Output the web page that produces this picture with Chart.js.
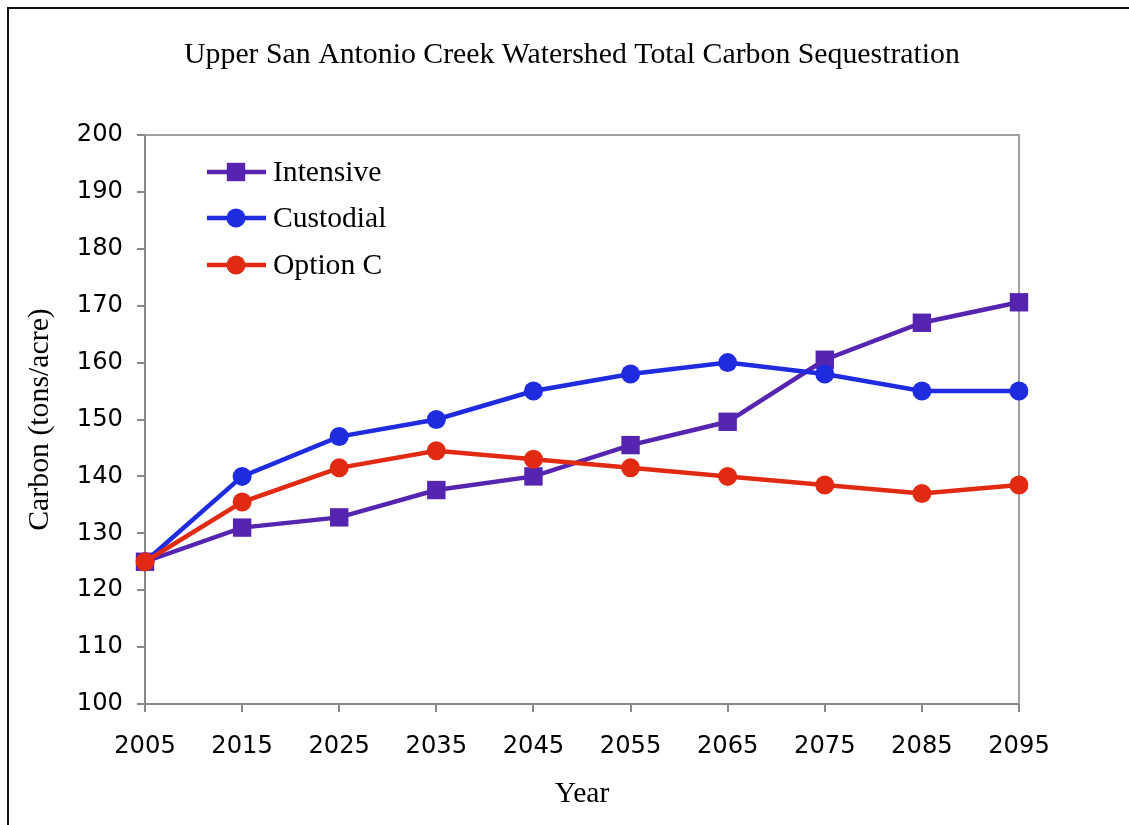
<!DOCTYPE html>
<html>
<head>
<meta charset="utf-8">
<script src="https://cdn.jsdelivr.net/npm/chart.js@4/dist/chart.umd.min.js"></script>
<style>
  html, body { margin: 0; padding: 0; background: #fff; overflow: hidden; }
  #wrap { position: relative; width: 1129px; height: 825px; }
  #frame { position: absolute; left: 7px; top: 7px; width: 1200px; height: 900px; border: 2px solid #111; pointer-events: none; box-sizing: border-box; }
  canvas { position: absolute; left: 0; top: 0; }
</style>
</head>
<body>
<div id="wrap">
  <canvas id="c" width="1129" height="825"></canvas>
  <div id="frame"></div>
</div>
<script>
const years = ['2005','2015','2025','2035','2045','2055','2065','2075','2085','2095'];
const intensive = [125, 131, 132.8, 137.6, 140, 145.5, 149.6, 160.5, 167, 170.6];
const custodial = [125, 140, 147, 150, 155, 158, 160, 158, 155, 155];
const optionC = [125, 135.5, 141.5, 144.5, 143, 141.5, 140, 138.5, 137, 138.5];
const yTicks = [100, 110, 120, 130, 140, 150, 160, 170, 180, 190, 200];
const chartTitle = 'Upper San Antonio Creek Watershed Total Carbon Sequestration';

const serif = '"Liberation Serif", "Times New Roman", serif';
const sans = '"DejaVu Sans", Verdana, sans-serif';

const frameAndLegend = {
  id: 'frameAndLegend',
  beforeDatasetsDraw(chart) {
    const {ctx, chartArea: a} = chart;
    ctx.save();
    ctx.strokeStyle = '#a0a0a0';
    ctx.lineWidth = 2;
    ctx.beginPath();
    ctx.moveTo(a.left, a.top);
    ctx.lineTo(a.right, a.top);
    ctx.lineTo(a.right, a.bottom);
    ctx.stroke();
    ctx.restore();
  },
  afterDraw(chart) {
    const {ctx} = chart;
    ctx.save();
    // title
    ctx.fillStyle = '#000';
    ctx.font = '29.8px ' + serif;
    ctx.textAlign = 'center';
    ctx.textBaseline = 'alphabetic';
    ctx.fillText(chartTitle, 572, 63);
    // legend
    const x0 = 207, x1 = 266, xm = 236, tx = 273;
    const rows = [172, 218, 265];
    chart.data.datasets.forEach((ds, i) => {
      const y = rows[i];
      ctx.strokeStyle = ds.borderColor;
      ctx.lineWidth = ds.borderWidth;
      ctx.beginPath();
      ctx.moveTo(x0, y);
      ctx.lineTo(x1, y);
      ctx.stroke();
      ctx.fillStyle = ds.pointBackgroundColor;
      if (ds.pointStyle === 'rect') {
        const s = Math.SQRT1_2 * ds.pointRadius;
        ctx.fillRect(xm - s, y - s, 2 * s, 2 * s);
      } else {
        ctx.beginPath();
        ctx.arc(xm, y, ds.pointRadius, 0, Math.PI * 2);
        ctx.fill();
      }
      ctx.fillStyle = '#000';
      ctx.font = '29.6px ' + serif;
      ctx.textBaseline = 'middle';
      ctx.textAlign = 'left';
      ctx.fillText(ds.label, tx, y + 1);
    });
    ctx.restore();
  }
};

new Chart(document.getElementById('c'), {
  type: 'line',
  data: {
    labels: years,
    datasets: [
      { label: 'Intensive', data: intensive, borderColor: '#5524b0', backgroundColor: '#5524b0',
        pointBackgroundColor: '#5524b0', pointBorderColor: '#5524b0', pointStyle: 'rect',
        pointRadius: 13, pointBorderWidth: 0, borderWidth: 4.5, order: 2 },
      { label: 'Custodial', data: custodial, borderColor: '#1e2bdf', backgroundColor: '#1e2bdf',
        pointBackgroundColor: '#1e2bdf', pointBorderColor: '#1e2bdf', pointStyle: 'circle',
        pointRadius: 9.5, pointBorderWidth: 0, borderWidth: 4.5, order: 1 },
      { label: 'Option C', data: optionC, borderColor: '#e02a12', backgroundColor: '#e02a12',
        pointBackgroundColor: '#e02a12', pointBorderColor: '#e02a12', pointStyle: 'circle',
        pointRadius: 9.5, pointBorderWidth: 0, borderWidth: 4.5, order: 0 }
    ]
  },
  options: {
    responsive: false,
    animation: false,
    devicePixelRatio: 1,
    layout: { padding: { left: 0, right: 110, top: 135, bottom: 0 } },
    plugins: {
      legend: { display: false },
      tooltip: { enabled: false },
      title: { display: false }
    },
    scales: {
      x: {
        type: 'category',
        offset: false,
        afterFit: s => { s.height = 121; },
        grid: { display: true, drawOnChartArea: false, drawTicks: true, tickLength: 8, color: '#888', lineWidth: 2 },
        border: { display: true, color: '#888', width: 2 },
        ticks: { color: '#000', font: { family: sans, size: 24.2 }, padding: 20, maxRotation: 0, autoSkip: false },
        title: { display: true, text: 'Year', color: '#000',
          font: { family: serif, size: 29.6, lineHeight: 1.2 }, padding: { top: 0, bottom: 13 } }
      },
      y: {
        min: 100, max: 200,
        afterFit: s => { s.width = 145; },
        afterBuildTicks: s => { s.ticks = yTicks.map(v => ({ value: v })); },
        grid: { display: true, drawOnChartArea: false, drawTicks: true, tickLength: 8, color: '#888', lineWidth: 2 },
        border: { display: true, color: '#888', width: 2 },
        ticks: { color: '#000', font: { family: sans, size: 24.2 }, padding: 14 },
        title: { display: true, text: 'Carbon (tons/acre)', color: '#000',
          font: { family: serif, size: 29.8, lineHeight: 1.2 }, padding: { top: 22, bottom: 0 } }
      }
    }
  },
  plugins: [frameAndLegend]
});
</script>
</body>
</html>
